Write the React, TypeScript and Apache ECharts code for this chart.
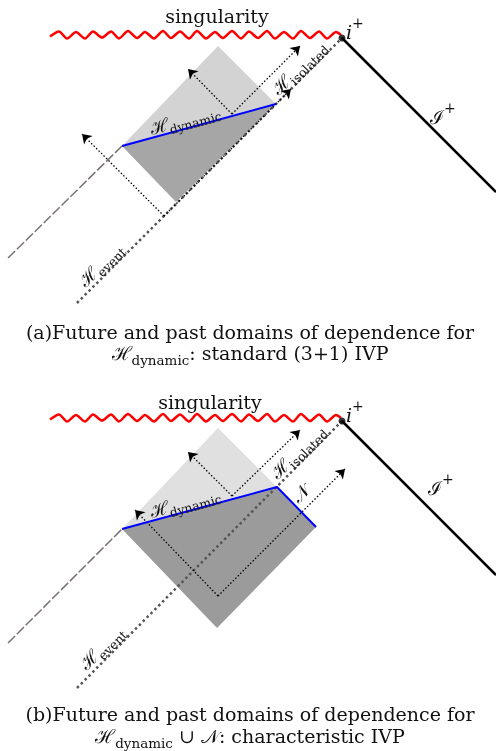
import React, { useEffect, useRef } from "react";
import * as echarts from "echarts";

type P = [number, number];

// ---- diagram data (pixel-space coordinates of the reference) ----
const WAVE_X = [50, 59, 67, 76, 85, 93, 102, 111, 119, 128, 137, 145, 154, 163, 171, 180, 189, 197, 206, 215, 223, 232, 241, 249, 258, 267, 275, 284, 293, 301, 310, 319, 327, 336, 341];
const WAVE_DY = [1.5, -3.5, 3.5, -3, 3.5, -3.5, 2.5, -3.5, 3.5, -4, 3, -3, 3.5, -4, 3, -3.5, 3.5, -4, 3.5, -3, 3, -4, 3.5, -3.5, 3, -4, 3.5, -3, 3.5, -4, 3, -3.5, 3.5, -3, 0];

const SING_BASE_A = 35;
const SING_BASE_B = 418;

const IPLUS_A: P = [342, 38];
const IPLUS_B: P = [342, 421];

const SCRI_A: P[] = [[342, 38], [496, 192]];
const SCRI_B: P[] = [[342, 421], [496, 575]];

const EVENT_A: P[] = [[77, 303], [342, 38]];
const EVENT_B: P[] = [[77, 688], [342, 421]];

const DASHED_A: P[] = [[8, 258], [122, 146]];
const DASHED_B: P[] = [[8, 643], [122, 529]];

const BLUE_A: P[] = [[122, 146], [276, 104]];
const BLUE_B: P[] = [[122, 529], [277, 487], [316, 527]];

const LIGHT_A: P[] = [[122, 146], [218, 46], [276, 104]];
const DARK_A: P[] = [[122, 146], [276, 104], [176, 202]];
const LIGHT_B: P[] = [[122, 529], [218, 428], [277, 487]];
const DARK_B: P[] = [[122, 529], [277, 487], [316, 527], [217, 628]];

const ARROWS_A: P[][] = [
  [[164, 216], [82, 134]],
  [[164, 216], [291, 89]],
  [[232, 114], [188, 69]],
  [[232, 114], [300, 46]],
];
const ARROWS_B: P[][] = [
  [[218, 596], [135, 510]],
  [[218, 596], [345, 469]],
  [[232, 496], [188, 452]],
  [[232, 496], [300, 430]],
];

const CAPTION_A = ["(a)Future and past domains of dependence for", "{H|ℋ}{S|dynamic}{T|: standard (3+1) IVP}"];
const CAPTION_B = ["(b)Future and past domains of dependence for", "{H|ℋ}{S|dynamic}{T| ∪ }{H|𝒩}{T|: characteristic IVP}"];

const SERIF = "'DejaVu Serif', 'Liberation Serif', serif";

function waveFor(base: number): P[] {
  return WAVE_X.map((x, i) => [x, base + WAVE_DY[i]] as P);
}

function polySeries(pts: P[], fill: string) {
  return {
    type: "custom",
    coordinateSystem: "cartesian2d",
    data: [pts[0]],
    silent: true,
    z: 1,
    renderItem: (_p: any, api: any) => ({
      type: "polygon",
      shape: { points: pts.map((p) => api.coord(p)) },
      style: { fill },
    }),
  };
}

function lineSeries(pts: P[], color: string, width: number, type: any, z = 3, smooth: any = false) {
  return {
    type: "line",
    data: pts,
    symbol: "none",
    smooth,
    silent: true,
    z,
    lineStyle: { color, width, type },
  };
}

function arrowSeries(segs: P[][]) {
  return {
    type: "lines",
    coordinateSystem: "cartesian2d",
    silent: true,
    z: 5,
    symbol: ["none", "arrow"],
    symbolSize: 9,
    lineStyle: { color: "#000", width: 1.3, type: [1.5, 2], opacity: 1 },
    data: segs.map((s) => ({ coords: s })),
  };
}

const richH = {
  h: { fontSize: 18, fontFamily: SERIF, verticalAlign: "top", lineHeight: 20, fill: "#111" },
  s: { fontSize: 12.5, fontFamily: SERIF, verticalAlign: "top", lineHeight: 13, padding: [9, 0, 0, 0], fill: "#111" },
  H: { fontSize: 19, fontFamily: SERIF, verticalAlign: "top", lineHeight: 22, fill: "#111" },
  S: { fontSize: 13.5, fontFamily: SERIF, verticalAlign: "top", lineHeight: 14, padding: [10, 0, 0, 0], fill: "#111" },
  T: { fontSize: 19, fontFamily: SERIF, verticalAlign: "top", lineHeight: 22, fill: "#111" },
};

function label(text: string, x: number, y: number, rot = 0, size = 19) {
  return {
    type: "text",
    x,
    y,
    rotation: rot,
    z: 10,
    style: {
      text,
      fill: "#111",
      font: `${size}px ${SERIF}`,
      align: "center",
      verticalAlign: "middle",
      rich: richH,
    },
  };
}

function supLabel(base: string, x: number, y: number, italic: boolean) {
  return {
    type: "text",
    x,
    y,
    z: 10,
    style: {
      text: `{b|${base}}{p|+}`,
      align: "left",
      verticalAlign: "middle",
      rich: {
        b: { fontSize: 19, fontFamily: SERIF, fontStyle: italic ? "italic" : "normal", verticalAlign: "top", lineHeight: 22, padding: [6, 0, 0, 0], fill: "#111" },
        p: { fontSize: 14, fontFamily: SERIF, verticalAlign: "top", lineHeight: 14, fill: "#111" },
      },
    },
  };
}

export default function App() {
  const ref = useRef<HTMLDivElement>(null);
  useEffect(() => {
    if (!ref.current) return;
    const chart = echarts.init(ref.current, undefined, { renderer: "svg" });
    const rot15 = Math.atan2(42, 154);
    const q = Math.PI / 4;
    chart.setOption({
      animation: false,
      grid: { left: 0, right: 0, top: 0, bottom: 0 },
      xAxis: { type: "value", min: 0, max: 496, show: false },
      yAxis: { type: "value", min: 0, max: 751, inverse: true, show: false },
      series: [
        polySeries(LIGHT_A, "#d3d3d3"),
        polySeries(DARK_A, "#a6a6a6"),
        polySeries(LIGHT_B, "#e0e0e0"),
        polySeries(DARK_B, "#9b9b9b"),
        lineSeries(waveFor(SING_BASE_A), "#ff0000", 2.5, "solid", 3, 0.25),
        lineSeries(waveFor(SING_BASE_B), "#ff0000", 2.5, "solid", 3, 0.25),
        lineSeries(SCRI_A, "#000", 2.5, "solid"),
        lineSeries(SCRI_B, "#000", 2.5, "solid"),
        lineSeries(EVENT_A, "#555", 2.5, [2.5, 3]),
        lineSeries(EVENT_B, "#555", 2.5, [2.5, 3]),
        lineSeries(DASHED_A, "#7a7272", 1.5, [10, 2.5]),
        lineSeries(DASHED_B, "#7a7272", 1.5, [10, 2.5]),
        lineSeries(BLUE_A, "#0000ff", 2, "solid", 6),
        lineSeries(BLUE_B, "#0000ff", 2, "solid", 6),
        arrowSeries(ARROWS_A),
        arrowSeries(ARROWS_B),
        {
          type: "scatter",
          data: [IPLUS_A, IPLUS_B],
          symbolSize: 7,
          itemStyle: { color: "#000" },
          silent: true,
          z: 7,
        },
      ],
      graphic: [
        label("singularity", 217, 16),
        label("singularity", 210, 402),
        supLabel("i", 346, 27, true),
        supLabel("i", 346, 410, true),
        supLabel("ℐ", 430, 112, false),
        supLabel("ℐ", 428, 483, false),
        label("{h|ℋ}{s|dynamic}", 185, 120, rot15),
        label("{h|ℋ}{s|dynamic}", 185, 503, rot15),
        label("{h|ℋ}{s|isolated}", 299, 68, q),
        label("{h|ℋ}{s|isolated}", 298, 452, q),
        label("{h|ℋ}{s|event}", 101, 265, q),
        label("{h|ℋ}{s|event}", 102, 648, q),
        label("{h|𝒩}", 301, 494, q),
        label(CAPTION_A[0], 250, 332),
        label(CAPTION_A[1], 250, 354),
        label(CAPTION_B[0], 250, 714),
        label(CAPTION_B[1], 250, 737),
      ],
    });
    return () => chart.dispose();
  }, []);
  return <div ref={ref} style={{ position: "fixed", left: 0, top: 0, width: 496, height: 751 }} />;
}
